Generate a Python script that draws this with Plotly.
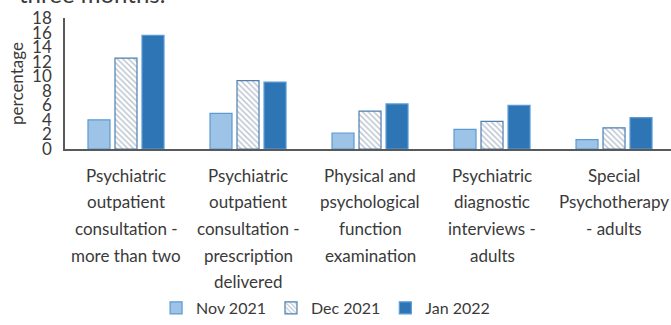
import plotly.graph_objects as go

categories = [
    "Psychiatric<br>outpatient<br>consultation -<br>more than two",
    "Psychiatric<br>outpatient<br>consultation -<br>prescription<br>delivered",
    "Physical and<br>psychological<br>function<br>examination",
    "Psychiatric<br>diagnostic<br>interviews -<br>adults",
    "Special<br>Psychotherapy<br>- adults",
]
nov_2021 = [4.0, 4.9, 2.2, 2.7, 1.3]
dec_2021 = [12.5, 9.4, 5.2, 3.8, 2.9]
jan_2022 = [15.6, 9.2, 6.2, 6.0, 4.3]
y_ticks = [0, 2, 4, 6, 8, 10, 12, 14, 16, 18]

FONT = "Lato, sans-serif"
TXT = "#3a3a3a"

x_idx = list(range(len(categories)))

fig = go.Figure()
fig.add_bar(x=x_idx, y=nov_2021, name="Nov 2021",
            marker=dict(color="#9DC3E6", line=dict(color="#5B9BD5", width=1.2)))
fig.add_bar(x=x_idx, y=dec_2021, name="Dec 2021",
            marker=dict(color="white", line=dict(color="#4F7FAF", width=1.2),
                        pattern=dict(shape="\\", fgcolor="#6F849C", bgcolor="white",
                                     size=4, solidity=0.35)))
fig.add_bar(x=x_idx, y=jan_2022, name="Jan 2022",
            marker=dict(color="#2E75B6", line=dict(color="#5B9BD5", width=1.2)))

# category labels as line-by-line annotations (to match line spacing)
for i, lab in enumerate(categories):
    for k, line in enumerate(lab.split("<br>")):
        fig.add_annotation(x=i, y=0, xref="x", yref="paper", text=line,
                           showarrow=False, yanchor="middle", xanchor="center",
                           yshift=-26 - k * 26.7,
                           font=dict(family=FONT, size=17, color=TXT))

fig.add_annotation(x=0.0, y=1.0, xref="paper", yref="paper", text="three months.",
                   showarrow=False, xanchor="left", yanchor="bottom",
                   xshift=-48, yshift=8,
                   font=dict(family=FONT, size=24, color=TXT))

fig.update_layout(
    width=671, height=325,
    margin=dict(l=65, r=0, t=18, b=172),
    paper_bgcolor="white", plot_bgcolor="white",
    barmode="group", bargap=0.336, bargroupgap=0.185,
    font=dict(family=FONT, color=TXT, size=17),
    showlegend=True,
    legend=dict(orientation="h", x=0.43, xanchor="center", y=-1.22, yanchor="middle",
                font=dict(family=FONT, size=16, color=TXT),
                itemwidth=30, traceorder="normal", tracegroupgap=0),
)
fig.update_xaxes(range=[-0.5, 4.467], showticklabels=False, showgrid=False,
                 showline=True, linecolor="#595959", linewidth=2, zeroline=False,
                 ticks="")
fig.update_yaxes(range=[0, 18], tickvals=y_ticks, showgrid=False, zeroline=False,
                 showline=True, linecolor="#595959", linewidth=1.5,
                 tickfont=dict(family=FONT, size=17, color=TXT),
                 title=dict(text="percentage", font=dict(family=FONT, size=17, color=TXT),
                            standoff=4),
                 ticks="outside", ticklen=8, tickcolor="white")

fig.write_html("out.html")
